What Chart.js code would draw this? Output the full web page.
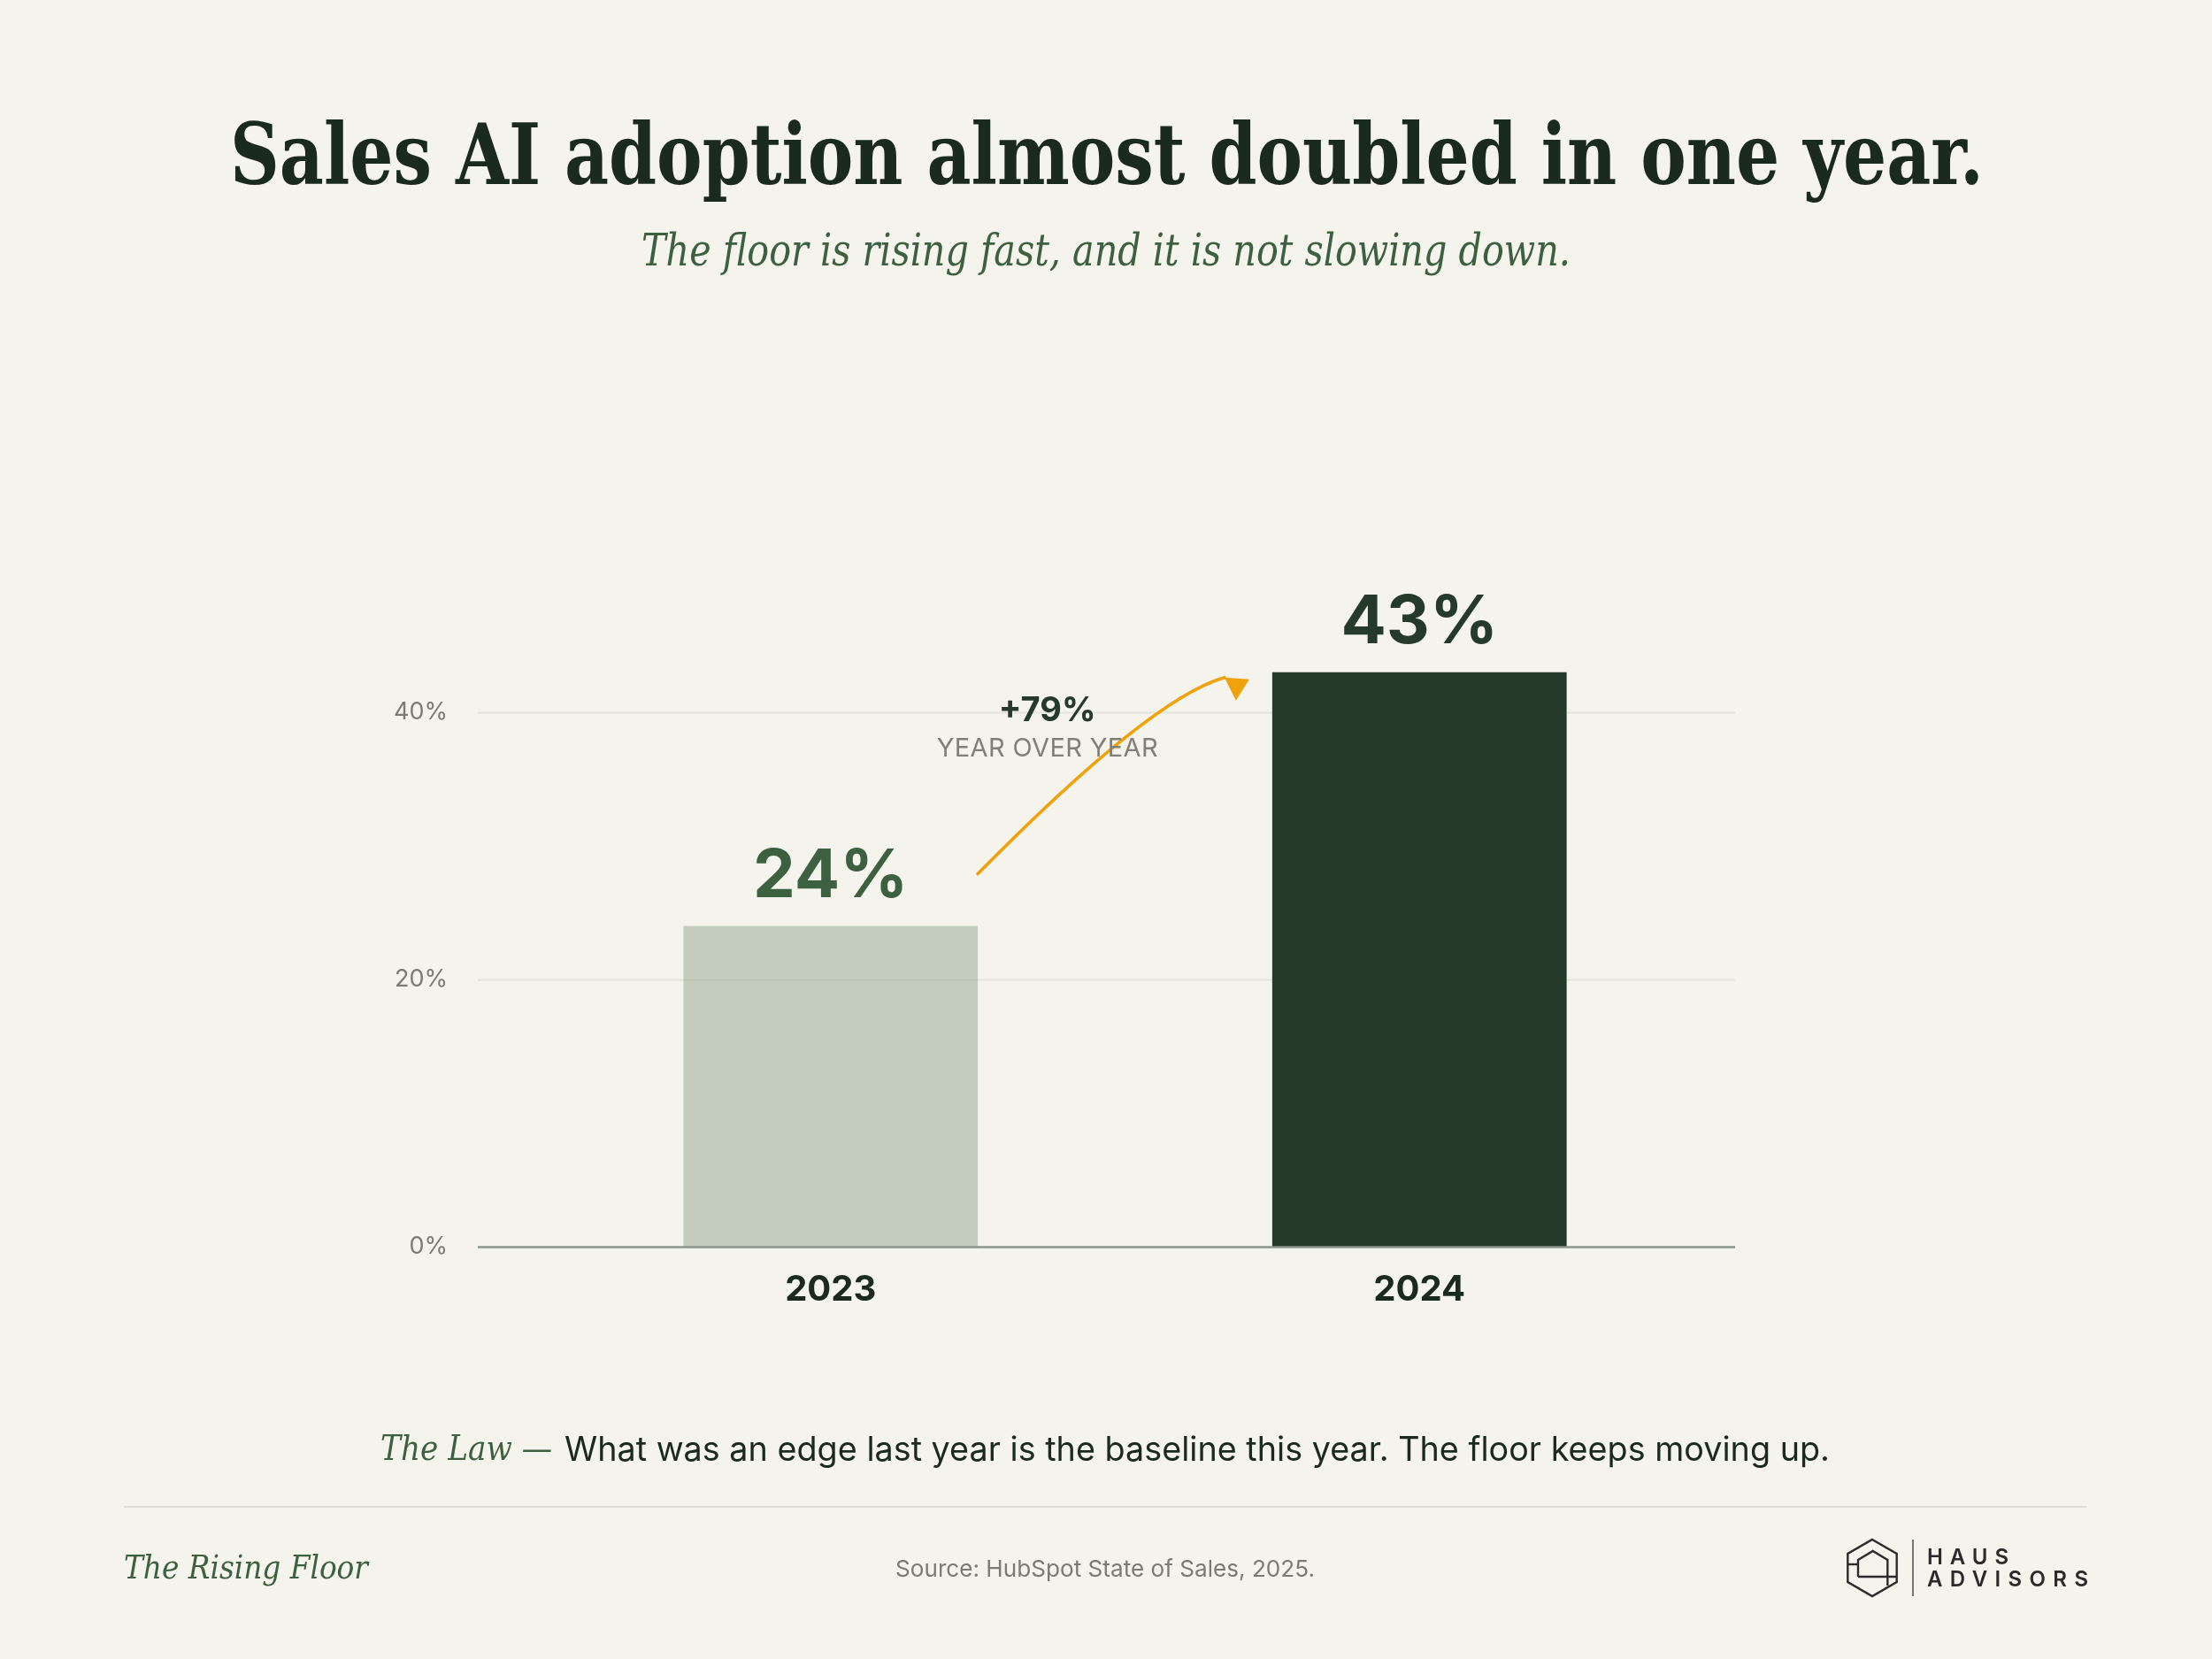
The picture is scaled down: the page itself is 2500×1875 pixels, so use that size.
<!DOCTYPE html>
<html><head><meta charset="utf-8">
<script src="https://cdn.jsdelivr.net/npm/chart.js@4.4.1/dist/chart.umd.min.js"></script>
<style>
html,body{margin:0;padding:0;background:#f4f3ec;}
#wrap{position:absolute;left:0;top:0;width:2500px;height:1875px;overflow:hidden;}
#c{position:absolute;left:0;top:0;}
#ov{position:absolute;left:0;top:0;pointer-events:none;}
</style></head><body>
<div id="wrap">
<canvas id="c" width="2500" height="1875"></canvas>
<svg id="ov" width="2500" height="1875" xmlns="http://www.w3.org/2000/svg">
  <text x="1251" y="208" text-anchor="middle" font-family="DejaVu Serif" font-stretch="condensed" font-weight="bold" font-size="95" fill="#1a2a1c" textLength="1982" lengthAdjust="spacingAndGlyphs">Sales AI adoption almost doubled in one year.</text>
  <text x="1250" y="300" text-anchor="middle" font-family="DejaVu Serif" font-stretch="condensed" font-style="italic" font-size="51" fill="#3d6140" textLength="1050" lengthAdjust="spacingAndGlyphs">The floor is rising fast, and it is not slowing down.</text>
  <text x="430" y="1650" font-family="DejaVu Serif" font-stretch="condensed" font-style="italic" font-size="40" fill="#3d6140" textLength="194" lengthAdjust="spacingAndGlyphs">The Law —</text>
  <text x="638" y="1651" font-family="Inter" font-size="38" fill="#1a2a1c" textLength="1430" lengthAdjust="spacingAndGlyphs">What was an edge last year is the baseline this year. The floor keeps moving up.</text>
  <line x1="140" y1="1703" x2="2358" y2="1703" stroke="#deddd3" stroke-width="2"/>
  <text x="140" y="1784" font-family="DejaVu Serif" font-stretch="condensed" font-style="italic" font-size="38" fill="#3d6140" textLength="276" lengthAdjust="spacingAndGlyphs">The Rising Floor</text>
  <text x="1249" y="1782" text-anchor="middle" font-family="Inter" font-size="26" fill="#7b7b73" textLength="474" lengthAdjust="spacingAndGlyphs">Source: HubSpot State of Sales, 2025.</text>
  <g fill="none" stroke="#2b2b2b" stroke-width="2.4" stroke-linejoin="miter">
    <polygon points="2116,1740 2143.7,1756 2143.7,1788 2116,1804 2088.3,1788 2088.3,1756"/>
    <path d="M2088.3,1768 L2100,1768"/>
    <path d="M2100,1782 L2100,1763 L2116.7,1753 L2133.3,1763 L2133.3,1792"/>
    <path d="M2100,1782 L2143.7,1782"/>
  </g>
  <line x1="2162" y1="1740" x2="2162" y2="1804" stroke="#555" stroke-width="1.6"/>
  <text x="2178" y="1768" font-family="Inter" font-weight="600" font-size="24" fill="#2b2b2b" textLength="92" lengthAdjust="spacing">HAUS</text>
  <text x="2178" y="1793" font-family="Inter" font-weight="600" font-size="24" fill="#2b2b2b" textLength="182" lengthAdjust="spacing">ADVISORS</text>
</svg>
</div>
<script>
// ---- data ----
const categories = ['2023', '2024'];
const adoptionValues = [24, 43];
const yTickValues = [0, 20, 40];
const yMax = 50;
const annotationSubLabel = 'YEAR OVER YEAR';

// ---- styles ----
const barColors = ['#c4cdbd', '#263a29'];
const valueLabelColors = ['#3d6140', '#263a29'];

const gridPlugin = {
  id: 'gridOver',
  afterDatasetsDraw(chart) {
    const ctx = chart.ctx, y = chart.scales.y, a = chart.chartArea;
    ctx.save();
    yTickValues.forEach(v => {
      const py = Math.round(y.getPixelForValue(v)) + 0.5;
      ctx.beginPath();
      ctx.moveTo(a.left - 66, py);
      ctx.lineTo(a.right + 24, py);
      if (v === 0) { ctx.strokeStyle = '#8d968a'; ctx.lineWidth = 2.5; }
      else { ctx.strokeStyle = 'rgba(60,60,30,0.08)'; ctx.lineWidth = 2; }
      ctx.stroke();
    });
    ctx.restore();
  }
};

const labelPlugin = {
  id: 'valueLabels',
  afterDatasetsDraw(chart) {
    const ctx = chart.ctx;
    const meta = chart.getDatasetMeta(0);
    ctx.save();
    ctx.font = '700 76px Inter';
    ctx.textAlign = 'center';
    ctx.textBaseline = 'alphabetic';
    meta.data.forEach((bar, i) => {
      ctx.fillStyle = valueLabelColors[i];
      ctx.fillText(adoptionValues[i] + '%', bar.x, bar.y - 33);
    });
    // arrow + annotation
    const b1 = meta.data[0], b2 = meta.data[1];
    const sx = b1.x + b1.width / 2, sy = b1.y - 59;
    const ex = b2.x - b2.width / 2 - 54, ey = b2.y + 6;
    const cx = ex - 84, cy = ey + 24;
    ctx.strokeStyle = '#efa20c';
    ctx.fillStyle = '#efa20c';
    ctx.lineWidth = 3.6;
    ctx.lineCap = 'round';
    ctx.beginPath();
    ctx.moveTo(sx, sy);
    ctx.quadraticCurveTo(cx, cy, ex, ey);
    ctx.stroke();
    ctx.beginPath();
    ctx.moveTo(ex, ey);
    ctx.lineTo(ex + 28, ey + 2);
    ctx.lineTo(ex + 13, ey + 26);
    ctx.closePath();
    ctx.fill();

    const growth = Math.round((adoptionValues[1] / adoptionValues[0] - 1) * 100);
    const tx = b1.x + 0.368 * (b2.x - b1.x);
    ctx.fillStyle = '#263a29';
    ctx.font = '700 38px Inter';
    ctx.fillText('+' + growth + '%', tx, b2.y + 55);
    ctx.fillStyle = '#808078';
    ctx.font = '400 29px Inter';
    const w0 = ctx.measureText(annotationSubLabel).width;
    const ls = Math.max(0, (250 - w0) / (annotationSubLabel.length - 1));
    ctx.letterSpacing = ls + 'px';
    ctx.fillText(annotationSubLabel, tx + ls / 2, b2.y + 95);
    ctx.restore();
  }
};

new Chart(document.getElementById('c'), {
  type: 'bar',
  data: {
    labels: categories,
    datasets: [{
      data: adoptionValues,
      backgroundColor: barColors,
      borderWidth: 0,
      categoryPercentage: 0.5,
      barPercentage: 1.0
    }]
  },
  options: {
    responsive: false,
    devicePixelRatio: 1,
    animation: false,
    layout: { padding: { left: 406, right: 563, top: 654, bottom: 386 } },
    plugins: { legend: { display: false }, tooltip: { enabled: false } },
    scales: {
      x: {
        offset: true,
        grid: { display: false, drawTicks: false },
        border: { display: false },
        ticks: { color: '#1a2a1c', font: { family: 'Inter', size: 40, weight: '700' }, padding: 25 },
        afterFit(s) { s.height = 80; }
      },
      y: {
        min: 0, max: yMax,
        grid: { display: false, drawTicks: false },
        border: { display: false },
        afterBuildTicks(s) { s.ticks = yTickValues.map(v => ({ value: v })); },
        ticks: { callback: v => v + '%', color: '#7b7b73', font: { family: 'Inter', size: 27 }, padding: 100 },
        afterFit(s) { s.width = 200; }
      }
    }
  },
  plugins: [gridPlugin, labelPlugin]
});
</script>
</body></html>
